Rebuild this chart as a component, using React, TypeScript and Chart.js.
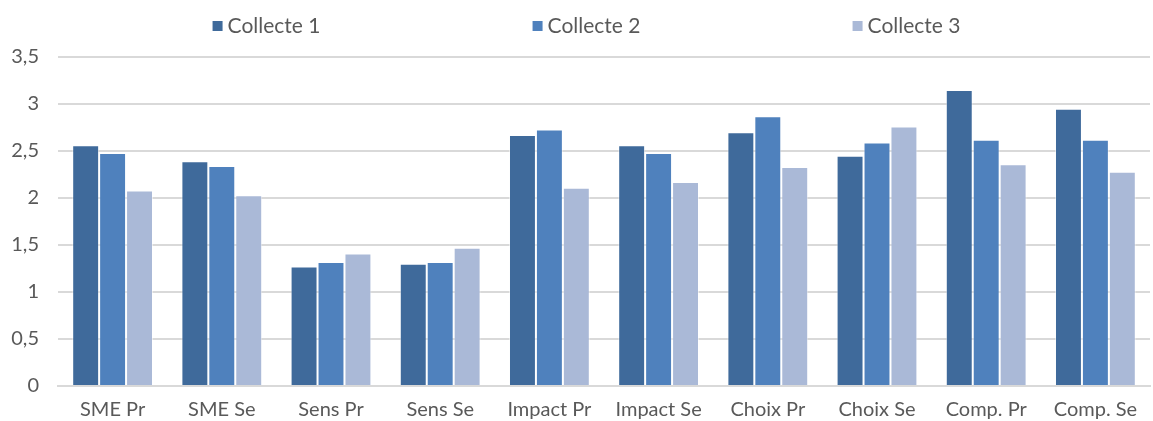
import React, { useEffect, useRef } from "react";
import { Chart, registerables } from "chart.js";

Chart.register(...registerables);

const categories = [
  "SME Pr",
  "SME Se",
  "Sens Pr",
  "Sens Se",
  "Impact Pr",
  "Impact Se",
  "Choix Pr",
  "Choix Se",
  "Comp. Pr",
  "Comp. Se",
];

const seriesNames = ["Collecte 1", "Collecte 2", "Collecte 3"];

const collecte1 = [2.56, 2.39, 1.27, 1.3, 2.67, 2.56, 2.7, 2.45, 3.15, 2.95];
const collecte2 = [2.48, 2.34, 1.32, 1.32, 2.73, 2.48, 2.87, 2.59, 2.62, 2.62];
const collecte3 = [2.08, 2.03, 1.41, 1.47, 2.11, 2.17, 2.33, 2.76, 2.36, 2.28];

const yTickLabels = ["0", "0,5", "1", "1,5", "2", "2,5", "3", "3,5"];

const seriesColors = ["#3F6A9B", "#4F81BD", "#AAB9D7"];

const FONT = "Lato, 'Open Sans', sans-serif";
const TEXT = "#595959";

// Legend row across the top: square swatch + label, evenly spaced items.
const topLegend = {
  id: "topLegend",
  afterDraw(chart: any) {
    const { ctx } = chart;
    const items = chart.data.datasets;
    const spacing = 320;
    const mid = chart.width / 2 + 10;
    ctx.save();
    ctx.font = `21px ${FONT}`;
    ctx.textBaseline = "middle";
    ctx.fillStyle = TEXT;
    items.forEach((ds: any, i: number) => {
      const label = ds.label as string;
      const tw = ctx.measureText(label).width;
      const w = 10 + 5 + tw;
      const cx = mid + (i - (items.length - 1) / 2) * spacing;
      const x0 = cx - w / 2;
      const y = 26;
      ctx.fillStyle = ds.backgroundColor;
      ctx.fillRect(x0, y - 5, 10, 10);
      ctx.fillStyle = TEXT;
      ctx.fillText(label, x0 + 15, y);
    });
    ctx.restore();
  },
};

export default function App() {
  const canvasRef = useRef<HTMLCanvasElement | null>(null);

  useEffect(() => {
    if (!canvasRef.current) return;
    const values = [collecte1, collecte2, collecte3];
    const chart = new Chart(canvasRef.current, {
      type: "bar",
      data: {
        labels: categories,
        datasets: seriesNames.map((name, i) => ({
          label: name,
          data: values[i],
          backgroundColor: seriesColors[i],
          borderColor: "rgba(255,255,255,0.5)",
          borderWidth: 1,
          categoryPercentage: 0.74,
          barPercentage: 1,
        })),
      },
      options: {
        responsive: false,
        animation: false,
        layout: { padding: { top: 57, right: 3, left: 0, bottom: 0 } },
        plugins: {
          legend: { display: false },
          tooltip: { enabled: false },
        },
        scales: {
          x: {
            grid: { display: false, drawTicks: false },
            border: { display: true, color: "#D9D9D9", width: 2 },
            ticks: {
              color: TEXT,
              font: { family: FONT, size: 20 },
              padding: 12,
              maxRotation: 0,
              autoSkip: false,
            },
            afterFit: (s: any) => {
              s.height = 35;
            },
          },
          y: {
            min: 0,
            max: 3.5,
            grid: { color: "#D9D9D9", lineWidth: 2, drawTicks: false },
            border: { display: false },
            ticks: {
              stepSize: 0.5,
              color: TEXT,
              font: { family: FONT, size: 20 },
              padding: 19,
              callback: (_v: any, idx: number) => yTickLabels[idx],
            },
            afterFit: (s: any) => {
              s.width = 58;
            },
          },
        },
      },
      plugins: [topLegend],
    });
    return () => chart.destroy();
  }, []);

  return (
    <div style={{ position: "absolute", left: 0, top: 0, width: 1153, height: 421, background: "#fff" }}>
      <canvas ref={canvasRef} width={1153} height={421} style={{ display: "block" }} />
    </div>
  );
}
